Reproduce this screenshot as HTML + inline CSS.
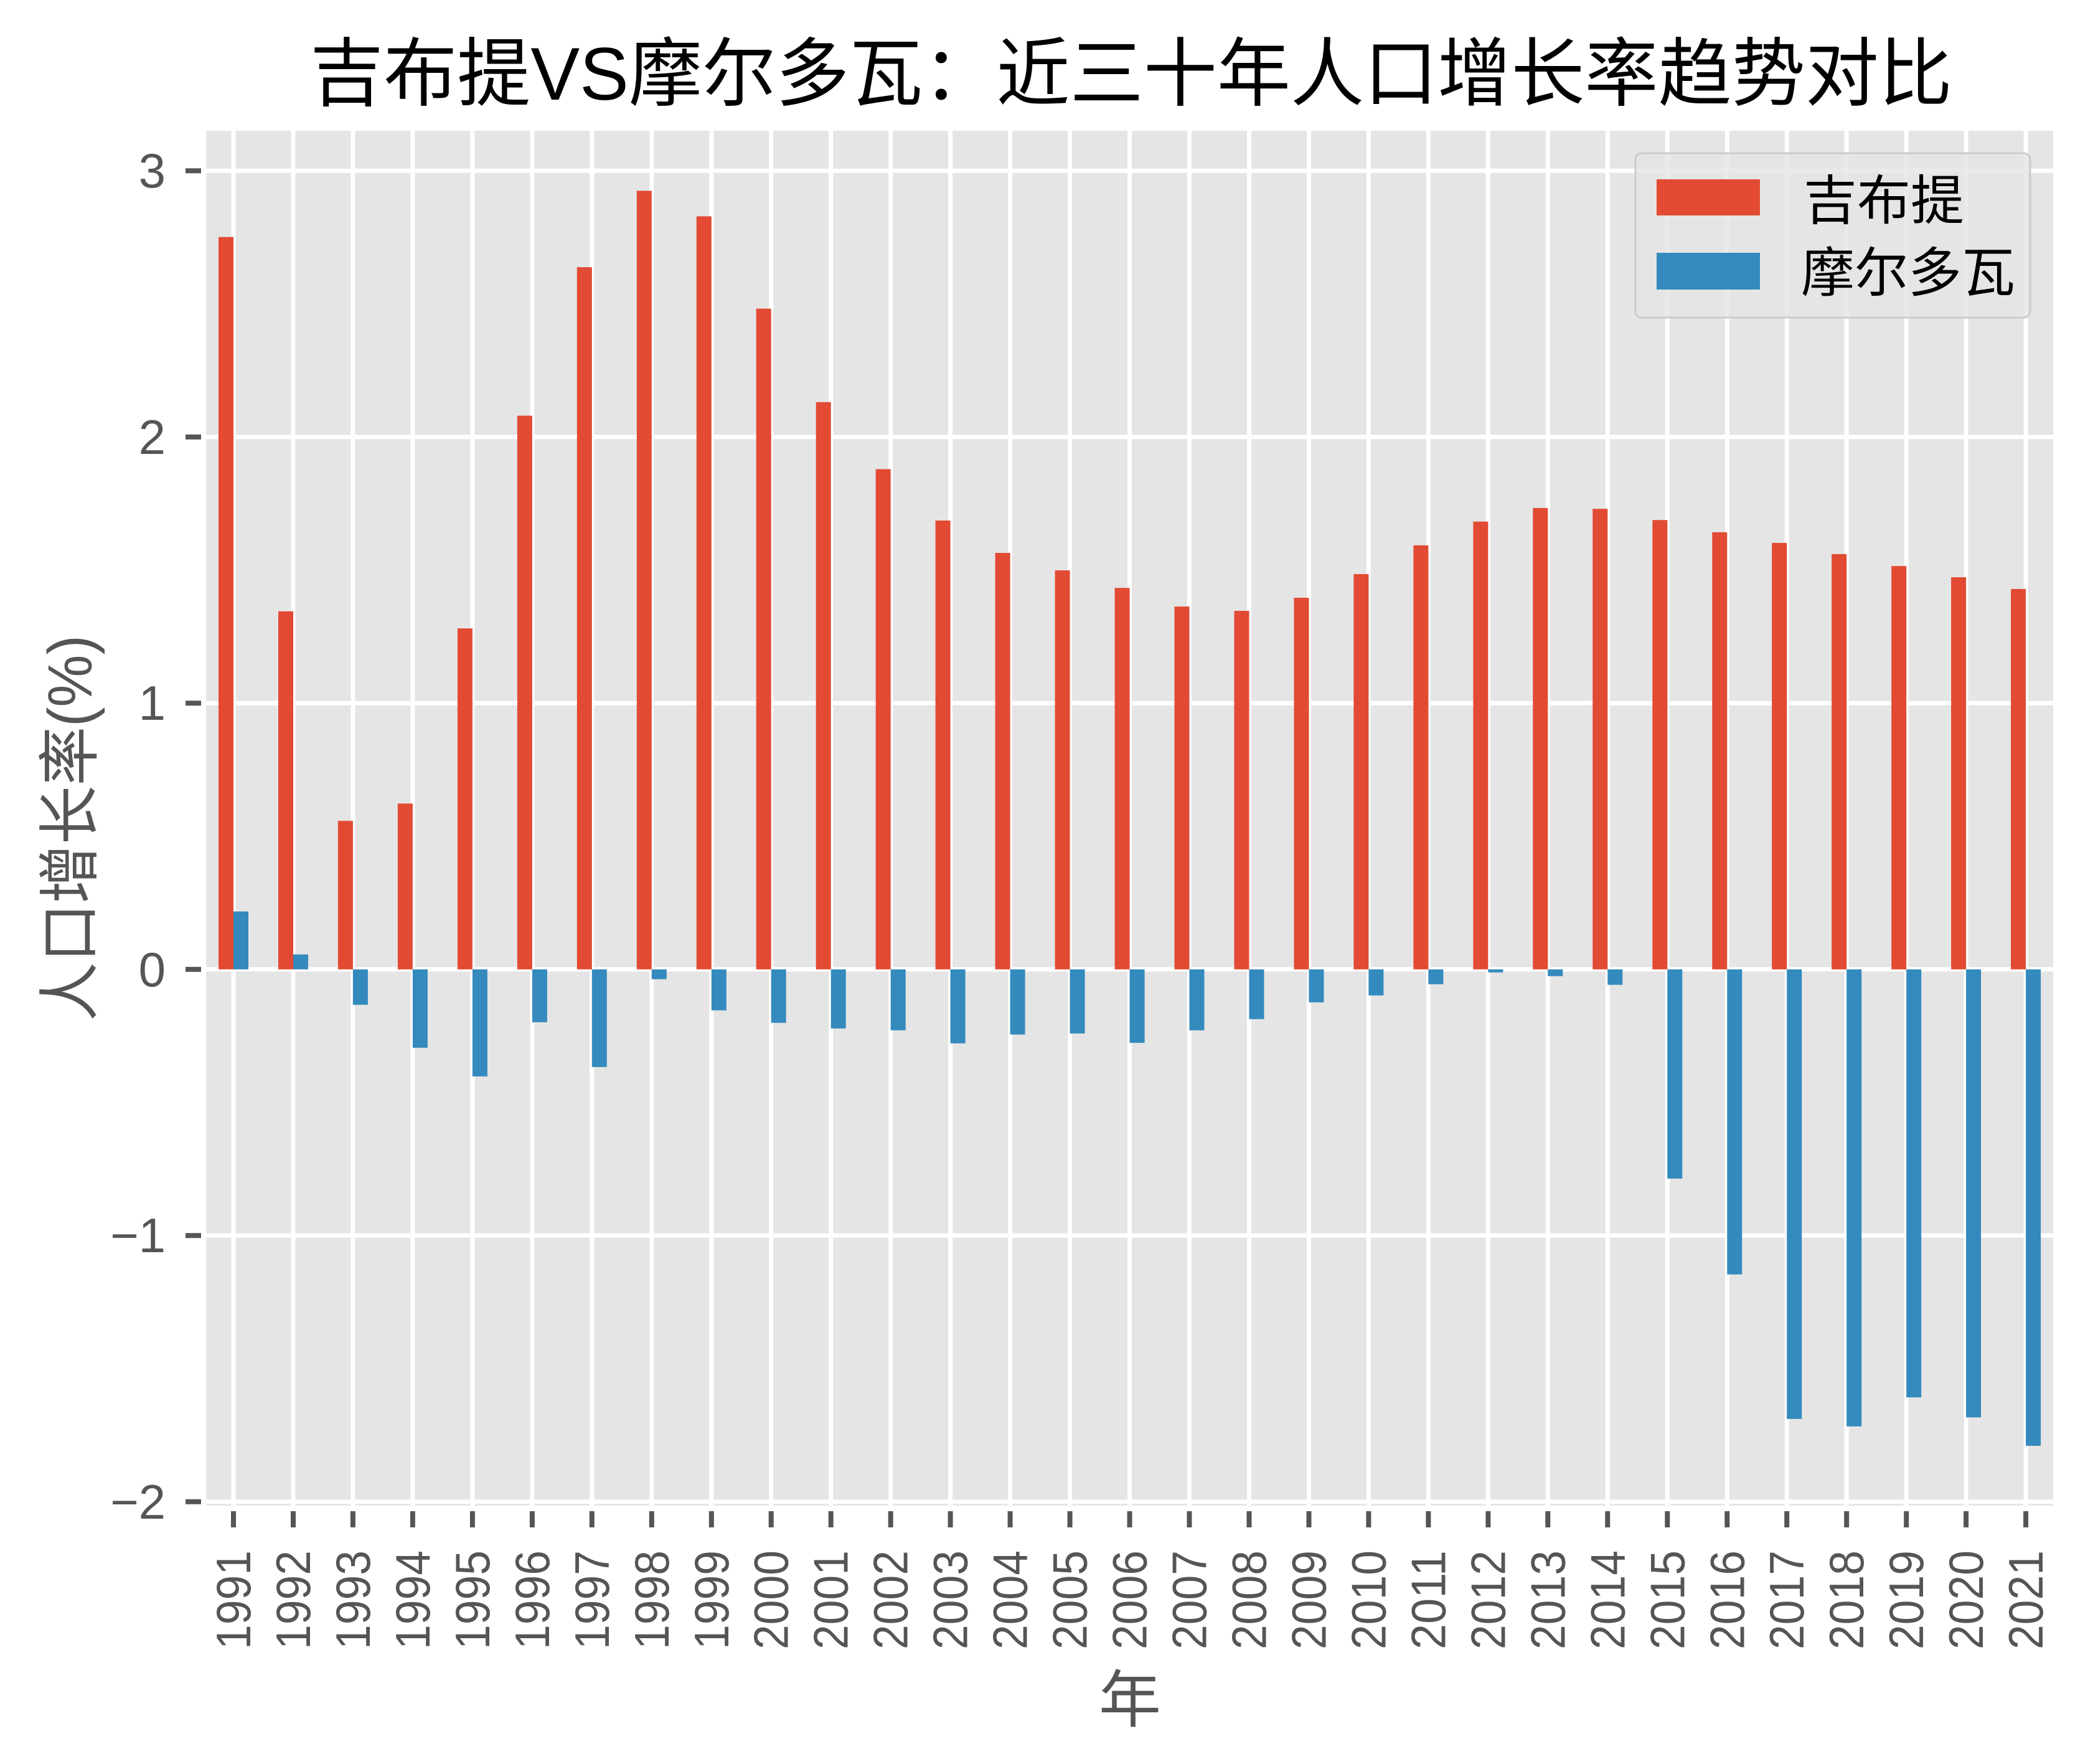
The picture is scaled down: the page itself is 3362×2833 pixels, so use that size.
<!DOCTYPE html>
<html>
<head>
<meta charset="utf-8">
<style>
html,body{margin:0;padding:0;background:#fff;}
svg{display:block;}
text{font-family:"Liberation Sans","Noto Sans CJK SC","WenQuanYi Zen Hei",sans-serif;}
</style>
</head>
<body>
<svg xmlns="http://www.w3.org/2000/svg" width="3362" height="2833" viewBox="0 0 3362 2833">
<rect x="0" y="0" width="3362" height="2833" fill="#ffffff"/>
<!-- Title -->
<text x="1817" y="160" font-size="120" fill="#000" text-anchor="middle" textLength="2638" lengthAdjust="spacingAndGlyphs">吉布提VS摩尔多瓦：近三十年人口增长率趋势对比</text>

<!-- Axes background -->
<rect x="327" y="206" width="2975" height="2216" fill="#E5E5E5"/>

<!-- Gridlines -->
<g stroke="#ffffff" stroke-width="7">
<line x1="327" x2="3302" y1="274.3" y2="274.3"/>
<line x1="327" x2="3302" y1="701.8" y2="701.8"/>
<line x1="327" x2="3302" y1="1129.3" y2="1129.3"/>
<line x1="327" x2="3302" y1="1556.8" y2="1556.8"/>
<line x1="327" x2="3302" y1="1984.3" y2="1984.3"/>
<line x1="327" x2="3302" y1="2411.8" y2="2411.8"/>
<line y1="206" y2="2422" x1="375.0" x2="375.0"/>
<line y1="206" y2="2422" x1="471.0" x2="471.0"/>
<line y1="206" y2="2422" x1="566.9" x2="566.9"/>
<line y1="206" y2="2422" x1="662.9" x2="662.9"/>
<line y1="206" y2="2422" x1="758.9" x2="758.9"/>
<line y1="206" y2="2422" x1="854.9" x2="854.9"/>
<line y1="206" y2="2422" x1="950.8" x2="950.8"/>
<line y1="206" y2="2422" x1="1046.8" x2="1046.8"/>
<line y1="206" y2="2422" x1="1142.8" x2="1142.8"/>
<line y1="206" y2="2422" x1="1238.7" x2="1238.7"/>
<line y1="206" y2="2422" x1="1334.7" x2="1334.7"/>
<line y1="206" y2="2422" x1="1430.7" x2="1430.7"/>
<line y1="206" y2="2422" x1="1526.6" x2="1526.6"/>
<line y1="206" y2="2422" x1="1622.6" x2="1622.6"/>
<line y1="206" y2="2422" x1="1718.6" x2="1718.6"/>
<line y1="206" y2="2422" x1="1814.6" x2="1814.6"/>
<line y1="206" y2="2422" x1="1910.5" x2="1910.5"/>
<line y1="206" y2="2422" x1="2006.5" x2="2006.5"/>
<line y1="206" y2="2422" x1="2102.5" x2="2102.5"/>
<line y1="206" y2="2422" x1="2198.4" x2="2198.4"/>
<line y1="206" y2="2422" x1="2294.4" x2="2294.4"/>
<line y1="206" y2="2422" x1="2390.4" x2="2390.4"/>
<line y1="206" y2="2422" x1="2486.3" x2="2486.3"/>
<line y1="206" y2="2422" x1="2582.3" x2="2582.3"/>
<line y1="206" y2="2422" x1="2678.3" x2="2678.3"/>
<line y1="206" y2="2422" x1="2774.3" x2="2774.3"/>
<line y1="206" y2="2422" x1="2870.2" x2="2870.2"/>
<line y1="206" y2="2422" x1="2966.2" x2="2966.2"/>
<line y1="206" y2="2422" x1="3062.2" x2="3062.2"/>
<line y1="206" y2="2422" x1="3158.1" x2="3158.1"/>
<line y1="206" y2="2422" x1="3254.1" x2="3254.1"/>
</g>

<!-- Red bars (吉布提) -->
<g fill="#E24A33">
<rect x="351.0" y="380.7" width="24" height="1176.1"/>
<rect x="447.0" y="981.8" width="24" height="575.0"/>
<rect x="542.9" y="1318.3" width="24" height="238.5"/>
<rect x="638.9" y="1290.5" width="24" height="266.3"/>
<rect x="734.9" y="1009.2" width="24" height="547.6"/>
<rect x="830.9" y="667.6" width="24" height="889.2"/>
<rect x="926.8" y="429.1" width="24" height="1127.7"/>
<rect x="1022.8" y="306.4" width="24" height="1250.4"/>
<rect x="1118.8" y="347.4" width="24" height="1209.4"/>
<rect x="1214.7" y="495.7" width="24" height="1061.1"/>
<rect x="1310.7" y="645.8" width="24" height="911.0"/>
<rect x="1406.7" y="753.5" width="24" height="803.3"/>
<rect x="1502.6" y="836.0" width="24" height="720.8"/>
<rect x="1598.6" y="888.0" width="24" height="668.8"/>
<rect x="1694.6" y="916.0" width="24" height="640.8"/>
<rect x="1790.6" y="944.2" width="24" height="612.6"/>
<rect x="1886.5" y="974.1" width="24" height="582.7"/>
<rect x="1982.5" y="981.0" width="24" height="575.8"/>
<rect x="2078.5" y="960.0" width="24" height="596.8"/>
<rect x="2174.4" y="922.0" width="24" height="634.8"/>
<rect x="2270.4" y="875.8" width="24" height="681.0"/>
<rect x="2366.4" y="837.7" width="24" height="719.1"/>
<rect x="2462.3" y="815.9" width="24" height="740.9"/>
<rect x="2558.3" y="817.2" width="24" height="739.6"/>
<rect x="2654.3" y="835.2" width="24" height="721.6"/>
<rect x="2750.3" y="854.8" width="24" height="702.0"/>
<rect x="2846.2" y="871.9" width="24" height="684.9"/>
<rect x="2942.2" y="889.9" width="24" height="666.9"/>
<rect x="3038.2" y="909.1" width="24" height="647.7"/>
<rect x="3134.1" y="927.1" width="24" height="629.7"/>
<rect x="3230.1" y="945.9" width="24" height="610.9"/>
</g>

<!-- Blue bars (摩尔多瓦) -->
<g fill="#348ABD">
<rect x="375.0" y="1463.8" width="24" height="93.0"/>
<rect x="471.0" y="1532.9" width="24" height="23.9"/>
<rect x="566.9" y="1556.8" width="24" height="56.9"/>
<rect x="662.9" y="1556.8" width="24" height="125.9"/>
<rect x="758.9" y="1556.8" width="24" height="171.9"/>
<rect x="854.9" y="1556.8" width="24" height="84.9"/>
<rect x="950.8" y="1556.8" width="24" height="156.9"/>
<rect x="1046.8" y="1556.8" width="24" height="15.8"/>
<rect x="1142.8" y="1556.8" width="24" height="65.8"/>
<rect x="1238.7" y="1556.8" width="24" height="85.9"/>
<rect x="1334.7" y="1556.8" width="24" height="94.9"/>
<rect x="1430.7" y="1556.8" width="24" height="97.9"/>
<rect x="1526.6" y="1556.8" width="24" height="118.8"/>
<rect x="1622.6" y="1556.8" width="24" height="104.7"/>
<rect x="1718.6" y="1556.8" width="24" height="103.0"/>
<rect x="1814.6" y="1556.8" width="24" height="118.0"/>
<rect x="1910.5" y="1556.8" width="24" height="97.9"/>
<rect x="2006.5" y="1556.8" width="24" height="79.9"/>
<rect x="2102.5" y="1556.8" width="24" height="53.0"/>
<rect x="2198.4" y="1556.8" width="24" height="41.9"/>
<rect x="2294.4" y="1556.8" width="24" height="23.9"/>
<rect x="2390.4" y="1556.8" width="24" height="4.9"/>
<rect x="2486.3" y="1556.8" width="24" height="10.9"/>
<rect x="2582.3" y="1556.8" width="24" height="24.8"/>
<rect x="2678.3" y="1556.8" width="24" height="336.0"/>
<rect x="2774.3" y="1556.8" width="24" height="489.9"/>
<rect x="2870.2" y="1556.8" width="24" height="722.0"/>
<rect x="2966.2" y="1556.8" width="24" height="734.0"/>
<rect x="3062.2" y="1556.8" width="24" height="687.4"/>
<rect x="3158.1" y="1556.8" width="24" height="719.5"/>
<rect x="3254.1" y="1556.8" width="24" height="765.2"/>
</g>

<!-- White spines -->
<rect x="327" y="206" width="2975" height="2216" fill="none" stroke="#ffffff" stroke-width="8"/>

<!-- Legend -->
<rect x="2627" y="246" width="634" height="264" rx="10" ry="10" fill="#E5E5E5" fill-opacity="0.8" stroke="#CCCCCC" stroke-width="3"/>
<rect x="2661" y="288" width="166" height="58" fill="#E24A33"/>
<rect x="2661" y="406" width="166" height="59" fill="#348ABD"/>
<text x="2897" y="352" font-size="86" fill="#000">吉布提</text>
<text x="2893" y="468" font-size="86" fill="#000">摩尔多瓦</text>

<!-- Y ticks -->
<g fill="#555555">
<rect x="298" y="270.3" width="25" height="8"/>
<rect x="298" y="697.8" width="25" height="8"/>
<rect x="298" y="1125.3" width="25" height="8"/>
<rect x="298" y="1552.8" width="25" height="8"/>
<rect x="298" y="1980.3" width="25" height="8"/>
<rect x="298" y="2407.8" width="25" height="8"/>
</g>
<g fill="#555555" font-size="78" text-anchor="end">
<text x="266" y="301">3</text>
<text x="266" y="729">2</text>
<text x="266" y="1156">1</text>
<text x="266" y="1584">0</text>
<text x="266" y="2011">−1</text>
<text x="266" y="2439">−2</text>
</g>

<!-- X ticks -->
<g fill="#555555">
<rect x="371.0" y="2427" width="8" height="26"/>
<rect x="467.0" y="2427" width="8" height="26"/>
<rect x="562.9" y="2427" width="8" height="26"/>
<rect x="658.9" y="2427" width="8" height="26"/>
<rect x="754.9" y="2427" width="8" height="26"/>
<rect x="850.9" y="2427" width="8" height="26"/>
<rect x="946.8" y="2427" width="8" height="26"/>
<rect x="1042.8" y="2427" width="8" height="26"/>
<rect x="1138.8" y="2427" width="8" height="26"/>
<rect x="1234.7" y="2427" width="8" height="26"/>
<rect x="1330.7" y="2427" width="8" height="26"/>
<rect x="1426.7" y="2427" width="8" height="26"/>
<rect x="1522.6" y="2427" width="8" height="26"/>
<rect x="1618.6" y="2427" width="8" height="26"/>
<rect x="1714.6" y="2427" width="8" height="26"/>
<rect x="1810.6" y="2427" width="8" height="26"/>
<rect x="1906.5" y="2427" width="8" height="26"/>
<rect x="2002.5" y="2427" width="8" height="26"/>
<rect x="2098.5" y="2427" width="8" height="26"/>
<rect x="2194.4" y="2427" width="8" height="26"/>
<rect x="2290.4" y="2427" width="8" height="26"/>
<rect x="2386.4" y="2427" width="8" height="26"/>
<rect x="2482.3" y="2427" width="8" height="26"/>
<rect x="2578.3" y="2427" width="8" height="26"/>
<rect x="2674.3" y="2427" width="8" height="26"/>
<rect x="2770.3" y="2427" width="8" height="26"/>
<rect x="2866.2" y="2427" width="8" height="26"/>
<rect x="2962.2" y="2427" width="8" height="26"/>
<rect x="3058.2" y="2427" width="8" height="26"/>
<rect x="3154.1" y="2427" width="8" height="26"/>
<rect x="3250.1" y="2427" width="8" height="26"/>
</g>

<!-- X tick labels -->
<g fill="#555555" font-size="78" text-anchor="end" dominant-baseline="central">
<text transform="translate(375.0,2490) rotate(-90)" textLength="159" lengthAdjust="spacingAndGlyphs">1991</text>
<text transform="translate(471.0,2490) rotate(-90)" textLength="159" lengthAdjust="spacingAndGlyphs">1992</text>
<text transform="translate(566.9,2490) rotate(-90)" textLength="159" lengthAdjust="spacingAndGlyphs">1993</text>
<text transform="translate(662.9,2490) rotate(-90)" textLength="159" lengthAdjust="spacingAndGlyphs">1994</text>
<text transform="translate(758.9,2490) rotate(-90)" textLength="159" lengthAdjust="spacingAndGlyphs">1995</text>
<text transform="translate(854.9,2490) rotate(-90)" textLength="159" lengthAdjust="spacingAndGlyphs">1996</text>
<text transform="translate(950.8,2490) rotate(-90)" textLength="159" lengthAdjust="spacingAndGlyphs">1997</text>
<text transform="translate(1046.8,2490) rotate(-90)" textLength="159" lengthAdjust="spacingAndGlyphs">1998</text>
<text transform="translate(1142.8,2490) rotate(-90)" textLength="159" lengthAdjust="spacingAndGlyphs">1999</text>
<text transform="translate(1238.7,2490) rotate(-90)" textLength="159" lengthAdjust="spacingAndGlyphs">2000</text>
<text transform="translate(1334.7,2490) rotate(-90)" textLength="159" lengthAdjust="spacingAndGlyphs">2001</text>
<text transform="translate(1430.7,2490) rotate(-90)" textLength="159" lengthAdjust="spacingAndGlyphs">2002</text>
<text transform="translate(1526.6,2490) rotate(-90)" textLength="159" lengthAdjust="spacingAndGlyphs">2003</text>
<text transform="translate(1622.6,2490) rotate(-90)" textLength="159" lengthAdjust="spacingAndGlyphs">2004</text>
<text transform="translate(1718.6,2490) rotate(-90)" textLength="159" lengthAdjust="spacingAndGlyphs">2005</text>
<text transform="translate(1814.6,2490) rotate(-90)" textLength="159" lengthAdjust="spacingAndGlyphs">2006</text>
<text transform="translate(1910.5,2490) rotate(-90)" textLength="159" lengthAdjust="spacingAndGlyphs">2007</text>
<text transform="translate(2006.5,2490) rotate(-90)" textLength="159" lengthAdjust="spacingAndGlyphs">2008</text>
<text transform="translate(2102.5,2490) rotate(-90)" textLength="159" lengthAdjust="spacingAndGlyphs">2009</text>
<text transform="translate(2198.4,2490) rotate(-90)" textLength="159" lengthAdjust="spacingAndGlyphs">2010</text>
<text transform="translate(2294.4,2490) rotate(-90)" textLength="159" lengthAdjust="spacingAndGlyphs">2011</text>
<text transform="translate(2390.4,2490) rotate(-90)" textLength="159" lengthAdjust="spacingAndGlyphs">2012</text>
<text transform="translate(2486.3,2490) rotate(-90)" textLength="159" lengthAdjust="spacingAndGlyphs">2013</text>
<text transform="translate(2582.3,2490) rotate(-90)" textLength="159" lengthAdjust="spacingAndGlyphs">2014</text>
<text transform="translate(2678.3,2490) rotate(-90)" textLength="159" lengthAdjust="spacingAndGlyphs">2015</text>
<text transform="translate(2774.3,2490) rotate(-90)" textLength="159" lengthAdjust="spacingAndGlyphs">2016</text>
<text transform="translate(2870.2,2490) rotate(-90)" textLength="159" lengthAdjust="spacingAndGlyphs">2017</text>
<text transform="translate(2966.2,2490) rotate(-90)" textLength="159" lengthAdjust="spacingAndGlyphs">2018</text>
<text transform="translate(3062.2,2490) rotate(-90)" textLength="159" lengthAdjust="spacingAndGlyphs">2019</text>
<text transform="translate(3158.1,2490) rotate(-90)" textLength="159" lengthAdjust="spacingAndGlyphs">2020</text>
<text transform="translate(3254.1,2490) rotate(-90)" textLength="159" lengthAdjust="spacingAndGlyphs">2021</text>
</g>

<!-- Axis labels -->
<text x="1815" y="2765" font-size="100" fill="#555555" text-anchor="middle">年</text>
<text transform="translate(113,1330) rotate(-90)" font-size="100" fill="#555555" text-anchor="middle" dominant-baseline="central" textLength="620" lengthAdjust="spacingAndGlyphs">人口增长率(%)</text>
</svg>
</body>
</html>
